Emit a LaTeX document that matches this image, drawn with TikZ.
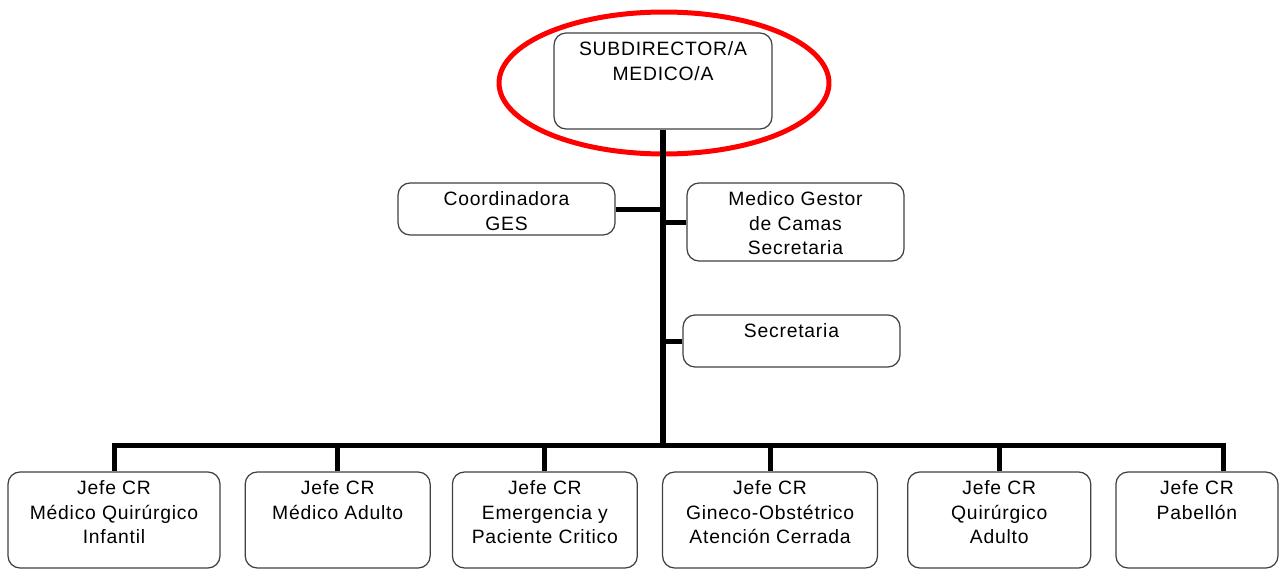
\documentclass[tikz,border=0pt]{standalone}
\usepackage{fontspec}
\setmainfont{Liberation Sans}[LetterSpace=4.0]
\usepackage{tikz}
\usetikzlibrary{calc, positioning}
\newcommand{\arriba}[3]{\parbox[c][#2][t]{#1}{\centering\vspace*{3.3pt}\strut #3}}
\tikzset{
    cajanode/.style = {draw=black!75, rectangle, rounded corners=0.24cm, inner sep=0pt,
      line width=0.7pt, fill=white, font=\fontsize{11}{13.8}\selectfont},
    tronco/.style = {black, line width=0.12cm},
    rama/.style = {black, line width=0.1cm},
    resalte/.style = {draw=red, line width=0.1cm}
}

\begin{document}
\begin{tikzpicture}[x=0.02cm, y=-0.02cm]
\useasboundingbox (0,0) rectangle (1281,571);
\node[cajanode, name=sub] at (663,81) {\arriba{4.36cm}{1.92cm}{SUBDIRECTOR/A\\MEDICO/A}};
\node[cajanode, name=coord] at (506.5,209) {\arriba{4.34cm}{1.04cm}{Coordinadora\\GES}};
\node[cajanode, name=gestor] at (795.5,222) {\arriba{4.34cm}{1.56cm}{Medico Gestor\\de Camas\\Secretaria}};
\node[cajanode, name=secre] at (791.5,341) {\arriba{4.34cm}{1.04cm}{Secretaria}};
% jefaturas CR
\node[cajanode, name=b1] at (114,520) {\arriba{4.24cm}{1.92cm}{Jefe CR\\Médico Quirúrgico\\Infantil}};
\node[cajanode, name=b2, right=0.48cm of b1] {\arriba{3.7cm}{1.92cm}{Jefe CR\\Médico Adulto}};
\node[cajanode, name=b3, right=0.42cm of b2] {\arriba{3.7cm}{1.92cm}{Jefe CR\\Emergencia y\\Paciente Critico}};
\node[cajanode, name=b4, right=0.48cm of b3] {\arriba{4.3cm}{1.92cm}{Jefe CR\\Gineco-Obstétrico\\Atención Cerrada}};
\node[cajanode, name=b5, right=0.58cm of b4] {\arriba{3.66cm}{1.92cm}{Jefe CR\\Quirúrgico\\Adulto}};
\node[cajanode, name=b6, right=0.48cm of b5] {\arriba{3.24cm}{1.92cm}{Jefe CR\\Pabellón}};
\draw[resalte] (664,83) ellipse [x radius=3.3cm, y radius=1.42cm];
\coordinate (barra) at (663,445);
\draw[tronco] (sub.south) -- (barra);
\draw[rama] (coord.east) -- (coord.east -| barra);
\draw[rama] (gestor.west) -- (gestor.west -| barra);
\draw[rama] (secre.west) -- (secre.west -| barra);
\foreach \b in {b1,b2,b3,b4,b5}
  \draw[rama] (barra) -| (\b.north);
\draw[rama] (barra) -| ($(b6.north)+(27,0)$);
\end{tikzpicture}
\end{document}
